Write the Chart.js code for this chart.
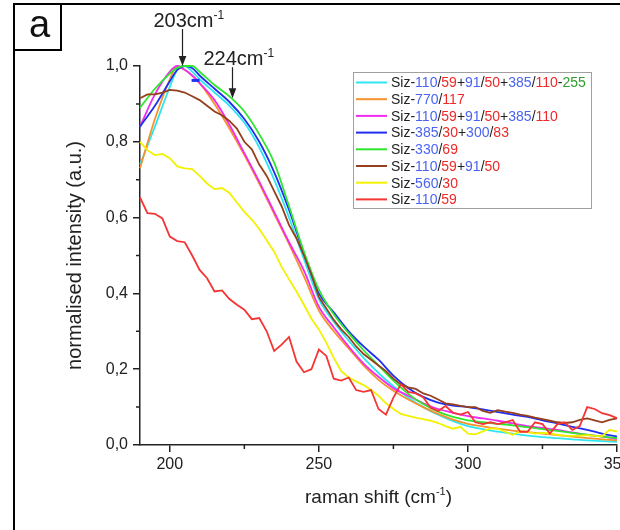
<!DOCTYPE html>
<html>
<head>
<meta charset="utf-8">
<script src="https://cdn.jsdelivr.net/npm/chart.js@4.4.1/dist/chart.umd.min.js"></script>
<style>
    html, body { margin: 0; padding: 0; background: #fff; }
    #wrap { width: 620px; height: 530px; }
</style>
</head>
<body>
<div id="wrap"><canvas id="myChart" width="620" height="530"></canvas></div>
<script>
// raman shift positions (cm-1)
const shiftSmooth = [190,195,200,202.5,205,207.5,210,215,220,225,230,235,240,245,250,255,260,265,270,275,280,285,290,295,300,305,310,315,320,325,330,335,340,345,350];
const shiftFine = [];
for( let s = 190; s <= 350; s += 2.5 ) { shiftFine.push(s); }

// series
const cyanVals    = [0.74,0.84,0.945,0.99,1.0,0.985,0.965,0.93,0.895,0.85,0.785,0.70,0.60,0.49,0.385,0.325,0.275,0.23,0.19,0.155,0.125,0.10,0.08,0.063,0.05,0.042,0.035,0.03,0.025,0.021,0.018,0.015,0.012,0.01,0.008];
const orangeVals  = [0.73,0.86,0.965,1.0,0.99,0.975,0.955,0.90,0.835,0.765,0.69,0.61,0.53,0.445,0.355,0.30,0.255,0.21,0.172,0.143,0.12,0.10,0.082,0.067,0.056,0.049,0.043,0.038,0.034,0.03,0.026,0.022,0.018,0.015,0.012];
const magentaVals = [0.84,0.925,0.985,1.0,0.99,0.975,0.955,0.91,0.845,0.77,0.695,0.615,0.535,0.46,0.365,0.31,0.26,0.215,0.18,0.15,0.13,0.11,0.095,0.085,0.076,0.07,0.064,0.057,0.05,0.045,0.04,0.033,0.027,0.022,0.016];
const blueVals    = [0.84,0.895,0.96,0.99,1.0,0.995,0.975,0.94,0.905,0.86,0.80,0.72,0.62,0.505,0.40,0.35,0.30,0.26,0.225,0.183,0.15,0.127,0.112,0.104,0.10,0.094,0.087,0.08,0.074,0.065,0.057,0.048,0.04,0.03,0.022];
const greenVals   = [0.89,0.94,0.98,0.995,1.0,1.0,0.985,0.95,0.92,0.88,0.82,0.745,0.63,0.51,0.41,0.345,0.295,0.25,0.21,0.17,0.135,0.108,0.088,0.074,0.065,0.06,0.056,0.052,0.047,0.042,0.037,0.032,0.027,0.022,0.018];
const brownVals   = [0.915,0.925,0.925,0.93,0.937,0.935,0.93,0.92,0.91,0.895,0.88,0.87,0.855,0.835,0.80,0.78,0.74,0.71,0.67,0.63,0.58,0.545,0.50,0.45,0.39,0.36,0.33,0.305,0.285,0.26,0.24,0.225,0.21,0.195,0.175,0.16,0.152,0.148,0.136,0.13,0.12,0.11,0.107,0.103,0.10,0.10,0.09,0.085,0.092,0.088,0.085,0.08,0.077,0.072,0.068,0.064,0.06,0.058,0.06,0.066,0.07,0.065,0.06,0.066,0.07];
const yellowVals  = [0.80,0.778,0.765,0.768,0.757,0.735,0.73,0.728,0.71,0.69,0.675,0.678,0.665,0.64,0.615,0.595,0.57,0.54,0.51,0.47,0.437,0.405,0.37,0.333,0.305,0.27,0.23,0.195,0.178,0.168,0.158,0.145,0.13,0.11,0.095,0.082,0.077,0.072,0.068,0.064,0.058,0.05,0.043,0.048,0.03,0.028,0.036,0.044,0.043,0.035,0.027,0.036,0.035,0.03,0.032,0.031,0.027,0.025,0.024,0.025,0.026,0.024,0.023,0.04,0.035];
const redVals     = [0.653,0.612,0.61,0.598,0.55,0.538,0.535,0.50,0.462,0.44,0.405,0.408,0.385,0.37,0.357,0.332,0.335,0.30,0.248,0.265,0.285,0.22,0.192,0.20,0.252,0.235,0.175,0.17,0.178,0.145,0.14,0.145,0.095,0.08,0.125,0.16,0.14,0.136,0.126,0.098,0.09,0.103,0.085,0.08,0.087,0.06,0.055,0.06,0.055,0.06,0.066,0.035,0.035,0.06,0.055,0.03,0.055,0.06,0.04,0.05,0.10,0.095,0.084,0.079,0.071];

const seriesLabels = [
    'Siz-110/59+91/50+385/110-255',
    'Siz-770/117',
    'Siz-110/59+91/50+385/110',
    'Siz-385/30+300/83',
    'Siz-330/69',
    'Siz-110/59+91/50',
    'Siz-560/30',
    'Siz-110/59'
];
const seriesColors = ['#2ee6f0','#f5922c','#f02cf0','#1f2ff0','#2ee62e','#953f1c','#f2f200','#f53434'];

// peak markers
const peakShifts = [204, 221];
const peakTips = [1.0, 0.915];
const peakLabels = ['203', '224'];

// minor tick positions
const xMinor = [225, 275, 325];
const yMinor = [0.1, 0.3, 0.5, 0.7, 0.9];

const FONT = "'Liberation Sans', Arial, sans-serif";
const INK = '#222';

function to_points( xs, ys ) {
    return ys.map(function(v, i) { return {x: xs[i], y: v}; });
}

const seriesData = [
    to_points(shiftSmooth, cyanVals),
    to_points(shiftSmooth, orangeVals),
    to_points(shiftSmooth, magentaVals),
    to_points(shiftSmooth, blueVals),
    to_points(shiftSmooth, greenVals),
    to_points(shiftFine, brownVals),
    to_points(shiftFine, yellowVals),
    to_points(shiftFine, redVals)
];
const smoothSet = [true, true, true, true, true, false, false, false];

const datasets = seriesData.map(function(d, i) {
    return {
        label: seriesLabels[i],
        data: d,
        borderColor: seriesColors[i],
        backgroundColor: seriesColors[i],
        borderWidth: 1.8,
        pointRadius: 0,
        cubicInterpolationMode: smoothSet[i] ? 'monotone' : 'default',
        tension: 0,
        clip: false,
        order: 7 - i
    };
});
// little blue dash left on the peak
datasets.push({
    label: 'mark',
    data: [{x: 207.3, y: 0.962}, {x: 210, y: 0.962}],
    borderColor: '#1f2ff0',
    borderWidth: 3,
    pointRadius: 0,
    clip: false,
    order: -1
});

// text with a superscript part, left aligned at x, baseline y
function draw_sup( ctx, parts, x, y, size ) {
    ctx.textBaseline = 'alphabetic';
    ctx.textAlign = 'left';
    parts.forEach(function(p) {
        let fs = p.sup ? Math.round(size * 0.6) : size;
        ctx.font = fs + 'px ' + FONT;
        ctx.fillText(p.t, x, p.sup ? y - size * 0.42 : y);
        x += ctx.measureText(p.t).width;
    });
}
function sup_width( ctx, parts, size ) {
    let w = 0;
    parts.forEach(function(p) {
        ctx.font = (p.sup ? Math.round(size * 0.6) : size) + 'px ' + FONT;
        w += ctx.measureText(p.t).width;
    });
    return w;
}

// legend label: numbers after '/' red, after '+' or first '-' blue, after second '-' green
function draw_label( ctx, text, x, y ) {
    const parts = text.split(/(\d+)/);
    let prev = '';
    let dashes = 0;
    parts.forEach(function(p) {
        if( p === '' ) { return; }
        let color = INK;
        if( /^\d+$/.test(p) ) {
            if( prev === '/' ) {
                color = '#f02828';
            } else if( prev === '-' && dashes > 1 ) {
                color = '#2f9f2f';
            } else {
                color = '#4a63f2';
            }
        } else {
            dashes += (p.match(/-/g) || []).length;
        }
        ctx.fillStyle = color;
        ctx.fillText(p, x, y);
        x += ctx.measureText(p).width;
        prev = p.slice(-1);
    });
}

const extras = {
    id: 'extras',
    afterDraw: function(chart) {
        const ctx = chart.ctx;
        const xs = chart.scales.x;
        const ys = chart.scales.y;
        ctx.save();
        ctx.strokeStyle = INK;
        ctx.fillStyle = INK;

        // minor ticks
        ctx.lineWidth = 1.5;
        ctx.beginPath();
        xMinor.forEach(function(v) {
            let px = xs.getPixelForValue(v);
            ctx.moveTo(px, ys.bottom);
            ctx.lineTo(px, ys.bottom + 4);
        });
        yMinor.forEach(function(v) {
            let py = ys.getPixelForValue(v);
            ctx.moveTo(xs.left, py);
            ctx.lineTo(xs.left - 4, py);
        });
        ctx.stroke();

        // outer frame and panel label
        ctx.strokeStyle = '#000';
        ctx.lineWidth = 2;
        ctx.beginPath();
        ctx.moveTo(14, 530);
        ctx.lineTo(14, 4);
        ctx.lineTo(620, 4);
        ctx.stroke();
        ctx.strokeRect(14, 4, 47, 46);
        ctx.fillStyle = '#111';
        ctx.font = '38px ' + FONT;
        ctx.textAlign = 'left';
        ctx.textBaseline = 'alphabetic';
        ctx.fillText('a', 29, 37);

        // peak arrows
        ctx.fillStyle = INK;
        ctx.strokeStyle = INK;
        ctx.lineWidth = 1.2;
        const arrowLen = [37, 31];
        peakShifts.forEach(function(v, i) {
            let px = Math.round(xs.getPixelForValue(v)) + 0.5;
            let tip = ys.getPixelForValue(peakTips[i]);
            let top = tip - arrowLen[i];
            ctx.beginPath();
            ctx.moveTo(px, top);
            ctx.lineTo(px, tip - 8);
            ctx.stroke();
            ctx.beginPath();
            ctx.moveTo(px - 3.8, tip - 10);
            ctx.lineTo(px + 3.8, tip - 10);
            ctx.lineTo(px, tip);
            ctx.closePath();
            ctx.fill();
            draw_sup(ctx, [{t: peakLabels[i] + 'cm'}, {t: '-1', sup: true}], px - 29, top - 2, 20);
        });

        // x axis title with superscript
        const titleParts = [{t: 'raman shift (cm'}, {t: '-1', sup: true}, {t: ')'}];
        const tw = sup_width(ctx, titleParts, 19);
        ctx.fillStyle = INK;
        draw_sup(ctx, titleParts, (xs.left + xs.right) / 2 - tw / 2, 503, 19);

        // legend
        const lx = 353, ly = 72, lw = 238, lh = 136;
        ctx.fillStyle = '#fff';
        ctx.fillRect(lx, ly, lw, lh);
        ctx.strokeStyle = '#a0a0a0';
        ctx.lineWidth = 1;
        ctx.strokeRect(lx + 0.5, ly + 0.5, lw, lh);
        ctx.font = '14px ' + FONT;
        ctx.textBaseline = 'middle';
        ctx.textAlign = 'left';
        chart.data.datasets.forEach(function(ds, i) {
            if( i >= seriesLabels.length ) { return; }
            let ry = ly + 10.5 + i * 16.7;
            ctx.strokeStyle = ds.borderColor;
            ctx.lineWidth = 2;
            ctx.beginPath();
            ctx.moveTo(lx + 3, ry);
            ctx.lineTo(lx + 34, ry);
            ctx.stroke();
            draw_label(ctx, ds.label, lx + 38, ry + 1);
        });
        ctx.restore();
    }
};

const config = {
    type: 'line',
    data: { datasets: datasets },
    options: {
        responsive: false,
        animation: false,
        layout: { padding: { left: 0, right: 3, top: 66, bottom: 0 } },
        plugins: {
            legend: { display: false },
            tooltip: { enabled: false }
        },
        scales: {
            x: {
                type: 'linear',
                min: 190,
                max: 350,
                border: { color: INK, width: 1.5 },
                grid: { drawOnChartArea: false, tickLength: 7, color: INK, lineWidth: 1.5 },
                ticks: {
                    stepSize: 50,
                    includeBounds: false,
                    color: INK,
                    padding: 3,
                    maxRotation: 0,
                    autoSkip: false,
                    font: { family: FONT, size: 16 }
                },
                afterFit: function(s) {
                    s.height = 85;
                    s.paddingLeft = 0;
                    s.paddingRight = 0;
                }
            },
            y: {
                min: 0,
                max: 1,
                border: { color: INK, width: 1.5 },
                grid: { drawOnChartArea: false, tickLength: 7, color: INK, lineWidth: 1.5 },
                ticks: {
                    stepSize: 0.2,
                    color: INK,
                    padding: 5,
                    font: { family: FONT, size: 16 },
                    callback: function(v) { return v.toFixed(1).replace('.', ','); }
                },
                title: {
                    display: true,
                    text: 'normalised intensity (a.u.)',
                    color: INK,
                    font: { family: FONT, size: 20 },
                    padding: { top: 63, bottom: 0 }
                },
                afterFit: function(s) {
                    s.width = 140;
                    s.paddingTop = 0;
                    s.paddingBottom = 0;
                }
            }
        }
    },
    plugins: [extras]
};

const myChart = new Chart(document.getElementById('myChart'), config);
</script>
</body>
</html>
